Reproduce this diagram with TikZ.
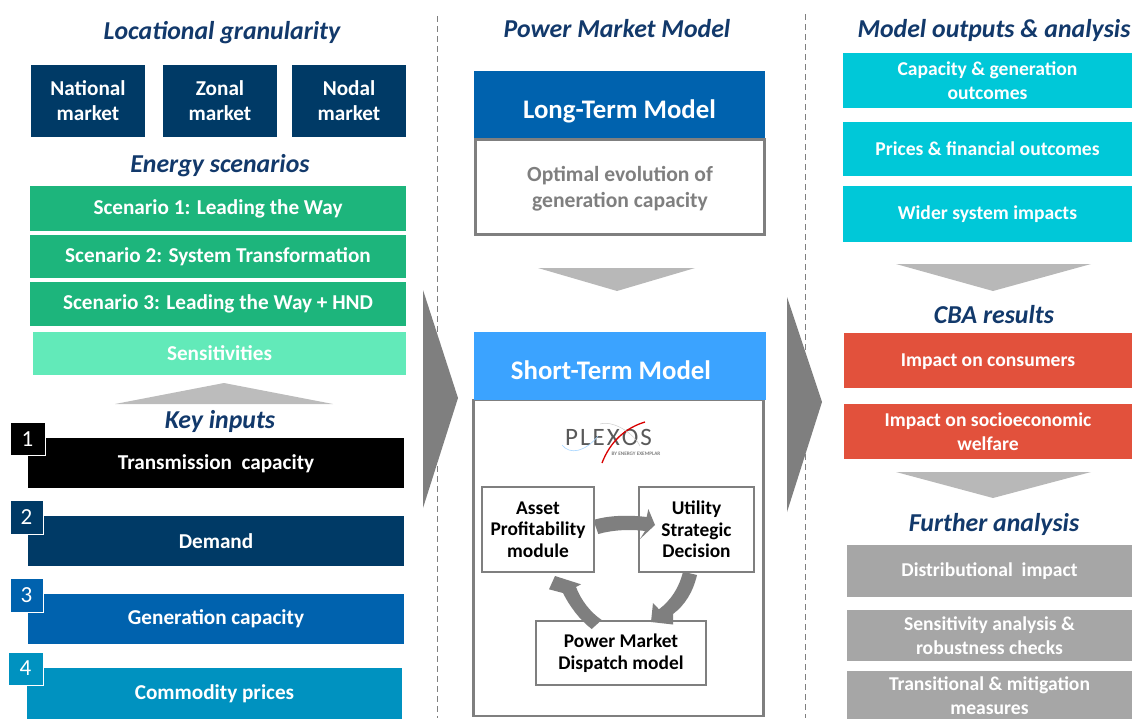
\documentclass[tikz,border=0pt]{standalone}
\usepackage{fontspec}
\setmainfont{Carlito}
\definecolor{navy}{HTML}{003A66}
\definecolor{headc}{HTML}{12396B}
\definecolor{blueb}{HTML}{0062AE}
\definecolor{skyb}{HTML}{3BA3FF}
\definecolor{teal}{HTML}{0092C0}
\definecolor{greena}{HTML}{1DB57C}
\definecolor{greenb}{HTML}{62EAB9}
\definecolor{cyanb}{HTML}{00C8D8}
\definecolor{redb}{HTML}{E2513C}
\definecolor{grayb}{HTML}{A6A6A6}
\definecolor{linec}{HTML}{7F7F7F}
\tikzset{
  x=1pt,y=-1pt,
  fbox/.style={rectangle,inner sep=0pt,outer sep=0pt,align=center,text=white,font=\fontsize{21.2}{25}\selectfont\bfseries},
  rbox/.style={fbox,font=\fontsize{19.6}{24}\selectfont\bfseries},
  lab/.style={inner sep=0pt,text=white,font=\fontsize{26.8}{30}\selectfont\bfseries},
  head/.style={inner sep=0pt,text=headc,font=\fontsize{25.8}{30}\selectfont\bfseries\itshape},
  numbox/.style={rectangle,inner sep=0pt,outer sep=0pt,draw=white,line width=1pt,text=white,font=\fontsize{23}{26}\selectfont},
  outl/.style={rectangle,inner sep=0pt,outer sep=0pt,draw=linec,line width=2.4pt,fill=white,align=center},
  inner/.style={outl,text=black,font=\fontsize{19.4}{21.5}\selectfont\bfseries},
  tri/.style={fill=#1,draw=none},
  sep/.style={draw=linec,line width=0.9pt,dash pattern=on 6pt off 4pt},
}
\newcommand{\dn}[2][2.5pt]{\raisebox{-#1}[10pt][5pt]{#2}}
\begin{document}
\begin{tikzpicture}
\useasboundingbox (0,0) rectangle (1137,718);
\clip (0,0) rectangle (1137,718);
% separators
\draw[sep] (437,16) coordinate (sa) -- (437,718) coordinate (sb);
\draw[sep] (805,14) coordinate (sc) -- (805,718) coordinate (sd);
% left column
\node[head] (h1) at (222,33) {Locational granularity};
\node[fbox,fill=navy,minimum width=114pt,minimum height=72pt] (nat) at (88,101) {National\\market};
\node[fbox,fill=navy,minimum width=114pt,minimum height=72pt] (zon) at (220,101) {Zonal\\market};
\node[fbox,fill=navy,minimum width=114pt,minimum height=72pt] (nod) at (349,101) {Nodal\\market};
\node[head] (h2) at (220,166) {Energy scenarios};
\node[fbox,fill=greena,minimum width=376pt,minimum height=45pt] (s1) at (218,208.5) {Scenario 1: Leading the Way};
\node[fbox,fill=greena,minimum width=376pt,minimum height=43pt] (s2) at (218,256.5) {Scenario 2: System Transformation};
\node[fbox,fill=greena,minimum width=376pt,minimum height=44pt] (s3) at (218,304) {\dn[3pt]{Scenario 3: Leading the Way + HND}};
\node[fbox,fill=greenb,minimum width=373pt,minimum height=43pt] (s4) at (219.5,353.5) {Sensitivities};
\fill[tri=grayb!75] (115,404) -- (224,383) -- (333,404) -- cycle;
\node[head] (h3) at (220,421) {Key inputs};
\node[fbox,fill=black,minimum width=376pt,minimum height=50pt] (k1) at (216,463) {\dn[3.5pt]{Transmission\ \ capacity}};
\node[fbox,fill=navy,minimum width=376pt,minimum height=50pt] (k2) at (216,541) {Demand};
\node[fbox,fill=blueb,minimum width=376pt,minimum height=50pt] (k3) at (216,619) {\dn{Generation capacity}};
\node[fbox,fill=teal,minimum width=375pt,minimum height=52pt] (k4) at (214.5,694) {\dn{Commodity prices}};
\node[numbox,fill=black,minimum width=35pt,minimum height=33pt] (n1) at (27.5,439) {1};
\node[numbox,fill=navy,minimum width=33pt,minimum height=34pt] (n2) at (26.5,517) {2};
\node[numbox,fill=blueb,minimum width=33pt,minimum height=34pt] (n3) at (26.5,595) {3};
\node[numbox,fill=teal,minimum width=35pt,minimum height=33pt] (n4) at (25.5,668.5) {4};
% big arrows
\fill[tri=linec] (423,290) -- (458,398) -- (423,508) -- cycle;
\fill[tri=linec] (787,297) -- (822,402) -- (787,512) -- cycle;
% middle column
\node[head] (h4) at (617,29) {Power Market Model};
\node[fbox,fill=blueb,minimum width=291pt,minimum height=67pt,label={[lab,yshift=-7pt]center:Long-Term Model}] (lt) at (619.5,104.5) {};
\node[outl,minimum width=289pt,minimum height=95pt,label={[inner sep=0pt,align=center,yshift=-1.5pt,text=linec,font=\fontsize{21.6}{26}\selectfont\bfseries]center:Optimal evolution of\\generation capacity}] (ltb) at (620,187) {};
\fill[tri=grayb!80] (538,268) -- (695,268) -- (617,291) -- cycle;
\node[outl,minimum width=290pt,minimum height=316pt] (stb) at (618.5,558) {};
\node[fbox,fill=skyb,minimum width=292pt,minimum height=68pt,label={[lab,xshift=-9pt,yshift=-4pt]center:Short-Term Model}] (st) at (620,366) {};
% plexos logo
\node[inner sep=0pt,text=linec!70!black,font=\fontsize{25}{25}\selectfont] (plx) at (608.5,437.5) {P\kern2pt L\kern2pt E\kern2pt X\kern2pt O\kern2pt S};
\node[inner sep=0pt,text=linec,font=\fontsize{5.2}{6}\selectfont\bfseries] (plxs) at (636,453.5) {BY ENERGY EXEMPLAR};
\draw[red!85!black,line width=1.3pt] (602,463) .. controls (610,442) and (625,428) .. (645,422);
\draw[skyb!45,line width=.6pt] (562,445) .. controls (570,455) and (585,452) .. (598,436);
\draw[linec!40,line width=.5pt] (600,424) .. controls (615,420) and (635,435) .. (640,446);
\node[inner,minimum width=112pt,minimum height=85pt] (asset) at (538,529.5) {Asset\\Profitability\\module};
\node[inner,minimum width=115pt,minimum height=85pt] (util) at (696.5,529.5) {Utility\\Strategic\\Decision};
\node[inner,minimum width=170pt,minimum height=64pt] (disp) at (621,653) {Power Market\\Dispatch model};
\fill[linec] (593.3,520) .. controls (610,515) and (630,515) .. (646.7,517) -- (648.3,509) -- (655,525) -- (640,539) -- (645,531) .. controls (630,529) and (612,530) .. (598.3,534) -- cycle;
\fill[linec] (683,571.7) -- (697,575) .. controls (693,592) and (685,605) .. (673,614) -- (673,624.5) -- (651,622) -- (653,603) -- (659,609.3) .. controls (671,600) and (679,588) .. (683,571.7) -- cycle;
\fill[linec] (601.7,620) -- (591.7,629) .. controls (580,620) and (570,607) .. (563,593) -- (549,589.3) -- (555,576) -- (581,584.3) -- (576,587) .. controls (581,600) and (590,612) .. (601.7,620) -- cycle;
% right column
\node[head] (h5) at (994,30) {Model outputs \& analysis};
\node[rbox,fill=cyanb,minimum width=289pt,minimum height=55pt] (o1) at (987.5,80.5) {Capacity \& generation\\outcomes};
\node[rbox,fill=cyanb,minimum width=289pt,minimum height=54pt] (o2) at (987.5,149) {Prices \& financial outcomes};
\node[rbox,fill=cyanb,minimum width=289pt,minimum height=56pt] (o3) at (987.5,214) {\dn[3pt]{Wider system impacts}};
\fill[tri=grayb!80] (896,264) -- (1091,264) -- (993,291) -- cycle;
\node[head] (h6) at (994,315) {CBA results};
\node[rbox,fill=redb,minimum width=288pt,minimum height=55pt] (c1) at (988,360.5) {\dn[3pt]{Impact on consumers}};
\node[rbox,fill=redb,minimum width=288pt,minimum height=55pt] (c2) at (988,431.5) {Impact on socioeconomic\\welfare};
\fill[tri=grayb!80] (896,472) -- (1091,472) -- (993,498) -- cycle;
\node[head] (h7) at (994,524) {Further analysis};
\node[rbox,fill=grayb,minimum width=285pt,minimum height=52pt] (f1) at (989.5,571) {\dn[3pt]{Distributional\ \ impact}};
\node[rbox,fill=grayb,minimum width=285pt,minimum height=51pt] (f2) at (989.5,635.5) {Sensitivity analysis \&\\robustness checks};
\node[rbox,fill=grayb,minimum width=285pt,minimum height=50pt] (f3) at (989.5,696) {Transitional \& mitigation\\measures};
\end{tikzpicture}
\end{document}
